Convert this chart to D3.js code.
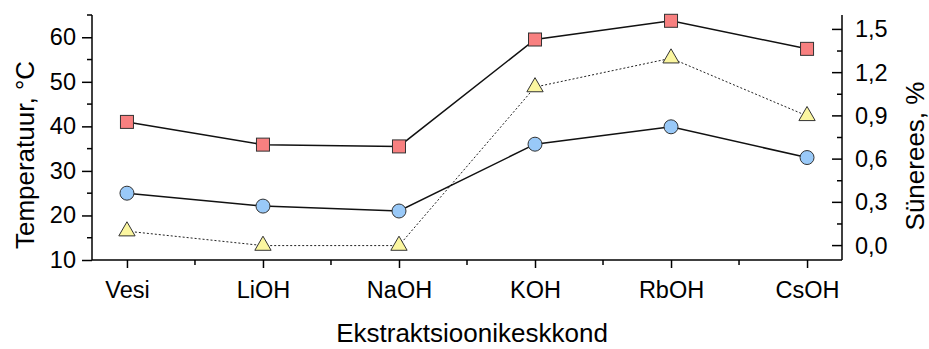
<!DOCTYPE html>
<html>
<head>
<meta charset="utf-8">
<script src="https://cdn.jsdelivr.net/npm/d3@7"></script>
<style>
  body { margin: 0; background: #fff; }
  svg text { font-family: "Liberation Sans", Arial, sans-serif; fill: #000; }
</style>
</head>
<body>
<div id="chart"></div>
<script>
// Data
const categories = ['Vesi', 'LiOH', 'NaOH', 'KOH', 'RbOH', 'CsOH'];
const tempSquares = [41, 35.9, 35.5, 59.5, 63.7, 57.4];
const tempCircles = [25, 22.1, 21, 36, 39.9, 33];
const synerees = [0.1, 0.0, 0.0, 1.1, 1.3, 0.9];
const leftTicks = [10, 20, 30, 40, 50, 60];
const rightTicks = [0.0, 0.3, 0.6, 0.9, 1.2, 1.5];

const width = 929, height = 349;
const plot = { left: 92, right: 842, top: 15, bottom: 260 };

const svg = d3.select('#chart')
  .append('svg')
  .attr('width', width)
  .attr('height', height);

// Scales
const xScale = d3.scalePoint()
  .domain(categories)
  .range([plot.left, plot.right])
  .padding(0.257);

const yLeft = d3.scaleLinear()
  .domain([10, 65])
  .range([plot.bottom, plot.top]);

const yRight = d3.scaleLinear()
  .domain([-0.1, 1.6])
  .range([plot.bottom, plot.top]);

const fmtComma = d => d3.format('.1f')(d).replace('.', ',');

// Axes
const xAxis = d3.axisBottom(xScale).tickSize(8).tickPadding(13);
const gx = svg.append('g')
  .attr('transform', `translate(0, ${plot.bottom})`)
  .call(xAxis);
gx.select('.domain').attr('d', `M${plot.left},0H${plot.right}`);

// minor x ticks halfway between categories
const step = xScale.step();
const xMinor = categories.slice(0, -1).map(c => xScale(c) + step / 2);
gx.selectAll('.minor')
  .data(xMinor)
  .join('line')
  .attr('class', 'minor')
  .attr('x1', d => d).attr('x2', d => d)
  .attr('y1', 0).attr('y2', 5)
  .attr('stroke', '#000')
  .attr('stroke-width', 1.5);

const yAxisL = d3.axisLeft(yLeft).tickValues(leftTicks).tickSize(10).tickPadding(6);
const gl = svg.append('g')
  .attr('transform', `translate(${plot.left}, 0)`)
  .call(yAxisL);
gl.select('.domain').attr('d', `M0,${plot.top}V${plot.bottom}`);
gl.selectAll('.minor')
  .data([15, 25, 35, 45, 55, 65])
  .join('line')
  .attr('class', 'minor')
  .attr('x1', 0).attr('x2', -5)
  .attr('y1', d => yLeft(d)).attr('y2', d => yLeft(d))
  .attr('stroke', '#000')
  .attr('stroke-width', 1.5);

// right axis: ticks point inward
const yAxisR = d3.axisRight(yRight).tickValues(rightTicks).tickSize(0).tickPadding(13).tickFormat(fmtComma);
const gr = svg.append('g')
  .attr('transform', `translate(${plot.right}, 0)`)
  .call(yAxisR);
gr.select('.domain').attr('d', `M0,${plot.top}V${plot.bottom}`);
gr.selectAll('.major')
  .data(rightTicks)
  .join('line')
  .attr('class', 'major')
  .attr('x1', 0).attr('x2', -10)
  .attr('y1', d => yRight(d)).attr('y2', d => yRight(d))
  .attr('stroke', '#000')
  .attr('stroke-width', 1.5);
gr.selectAll('.minor')
  .data([0.15, 0.45, 0.75, 1.05, 1.35])
  .join('line')
  .attr('class', 'minor')
  .attr('x1', 0).attr('x2', -5)
  .attr('y1', d => yRight(d)).attr('y2', d => yRight(d))
  .attr('stroke', '#000')
  .attr('stroke-width', 1.5);

[gx, gl, gr].forEach(g => {
  g.attr('font-size', null).attr('font-family', null);
  g.select('.domain').attr('stroke', '#000').attr('stroke-width', 1.5);
  g.selectAll('.tick line').attr('stroke', '#000').attr('stroke-width', 1.5);
  g.selectAll('.tick text').style('font-size', '23.5px');
});

// Axis titles
svg.append('text')
  .attr('x', 472)
  .attr('y', 342)
  .attr('text-anchor', 'middle')
  .style('font-size', '26px')
  .text('Ekstraktsioonikeskkond');

svg.append('text')
  .attr('transform', 'translate(34, 155) rotate(-90)')
  .attr('text-anchor', 'middle')
  .style('font-size', '26px')
  .text('Temperatuur, °C');

svg.append('text')
  .attr('transform', 'translate(924, 156) rotate(-90)')
  .attr('text-anchor', 'middle')
  .style('font-size', '26px')
  .text('Sünerees, %');

// Lines
const lineLeft = d3.line()
  .x((d, i) => xScale(categories[i]))
  .y(d => yLeft(d));
const lineRight = d3.line()
  .x((d, i) => xScale(categories[i]))
  .y(d => yRight(d));

svg.append('path')
  .datum(synerees)
  .attr('d', lineRight)
  .attr('fill', 'none')
  .attr('stroke', '#222')
  .attr('stroke-width', 1)
  .attr('stroke-dasharray', '2,2');

svg.append('path')
  .datum(tempSquares)
  .attr('d', lineLeft)
  .attr('fill', 'none')
  .attr('stroke', '#111')
  .attr('stroke-width', 1.5);

svg.append('path')
  .datum(tempCircles)
  .attr('d', lineLeft)
  .attr('fill', 'none')
  .attr('stroke', '#111')
  .attr('stroke-width', 1.5);

// Markers
svg.selectAll('.sq')
  .data(tempSquares)
  .join('rect')
  .attr('class', 'sq')
  .attr('x', (d, i) => xScale(categories[i]) - 6.5)
  .attr('y', d => yLeft(d) - 6.5)
  .attr('width', 13)
  .attr('height', 13)
  .attr('fill', '#f88080')
  .attr('stroke', '#333')
  .attr('stroke-width', 1);

svg.selectAll('.ci')
  .data(tempCircles)
  .join('circle')
  .attr('class', 'ci')
  .attr('cx', (d, i) => xScale(categories[i]))
  .attr('cy', d => yLeft(d))
  .attr('r', 7)
  .attr('fill', '#99c9f8')
  .attr('stroke', '#333')
  .attr('stroke-width', 1);

const tri = d3.symbol().type(d3.symbolTriangle).size(115);
svg.selectAll('.tr')
  .data(synerees)
  .join('path')
  .attr('class', 'tr')
  .attr('d', tri)
  .attr('transform', (d, i) => `translate(${xScale(categories[i])}, ${yRight(d)})`)
  .attr('fill', '#fbf6a0')
  .attr('stroke', '#333')
  .attr('stroke-width', 1);
</script>
</body>
</html>
